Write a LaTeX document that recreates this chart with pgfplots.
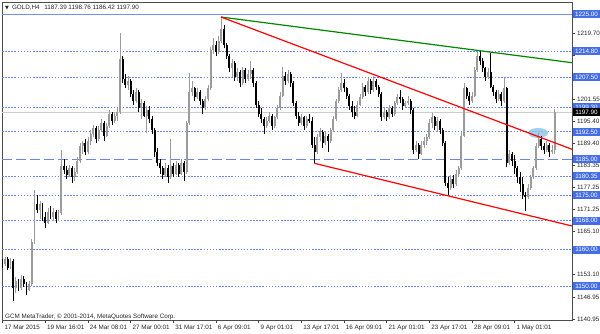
\documentclass[border=0pt]{standalone}
\usepackage{pgfplots}
\pgfplotsset{compat=1.18}
\usepackage{pgfplotstable}
\usepackage{fontspec}
\setmainfont{Liberation Sans}
\newfontfamily\djv{DejaVu Sans}
\definecolor{mtblue}{RGB}{70,110,228}
\definecolor{lvlblue}{RGB}{105,135,232}
\definecolor{topblue}{RGB}{115,145,232}
\definecolor{bullgray}{RGB}{155,155,155}
\definecolor{mtgreen}{RGB}{0,135,0}
\definecolor{bidgray}{RGB}{205,205,205}
\definecolor{skyb}{RGB}{140,195,235}
\newcommand\mtf{\fontsize{6.3bp}{7.5bp}\selectfont}
\tikzset{pbox/.style={anchor=west, fill=mtblue, text=white, font=\mtf, inner sep=0, minimum width=27bp, minimum height=8bp, xshift=0.8bp}}

\pgfplotstableread{
k o h l c
1 1156.0 1158.0 1155.5 1157.5
3 1155.0 1157.8 1154.8 1157.0
5 1149.5 1152.5 1148.0 1151.5
7 1149.5 1153.0 1149.0 1152.0
10 1149.0 1151.5 1148.5 1150.5
11 1150.5 1163.0 1150.0 1162.0
12 1162.0 1176.5 1161.5 1172.5
14 1171.0 1173.5 1168.5 1172.5
17 1167.5 1171.5 1167.0 1170.5
19 1169.0 1171.5 1168.0 1170.5
21 1168.5 1171.0 1168.0 1170.0
22 1170.0 1187.5 1169.5 1183.0
25 1180.5 1183.5 1180.0 1182.5
27 1180.0 1182.5 1179.0 1181.5
28 1181.5 1185.5 1181.0 1184.5
29 1184.5 1189.5 1184.0 1188.5
30 1188.5 1190.0 1186.5 1189.5
32 1187.0 1191.0 1186.5 1190.0
33 1190.0 1193.0 1189.0 1192.0
34 1192.0 1194.5 1191.0 1193.5
36 1190.5 1194.0 1190.0 1193.0
37 1193.0 1196.0 1192.5 1195.0
39 1191.5 1195.0 1191.0 1194.0
40 1194.0 1198.5 1193.5 1197.5
42 1195.5 1198.0 1195.0 1197.0
43 1197.0 1199.0 1195.5 1198.0
44 1198.0 1219.7 1197.5 1212.5
47 1205.5 1208.0 1204.0 1206.5
50 1201.0 1204.5 1200.5 1203.5
52 1199.0 1201.5 1196.0 1200.5
54 1197.0 1199.5 1192.2 1198.5
61 1180.5 1184.0 1180.0 1182.5
63 1180.0 1190.5 1179.5 1183.0
65 1181.0 1184.5 1180.5 1183.5
67 1181.0 1185.0 1180.5 1184.0
69 1181.5 1195.5 1181.0 1195.0
70 1195.0 1208.7 1194.5 1203.5
71 1203.5 1206.5 1202.5 1204.5
73 1202.0 1204.5 1201.5 1203.5
76 1199.0 1202.5 1198.5 1201.5
77 1201.5 1205.5 1201.0 1204.5
78 1204.5 1216.0 1204.0 1215.0
79 1215.0 1218.5 1214.0 1216.5
81 1214.5 1219.0 1214.0 1217.5
82 1217.5 1224.17 1217.0 1221.0
86 1210.0 1212.5 1207.5 1211.5
88 1207.5 1210.0 1206.5 1209.0
90 1206.0 1210.5 1205.5 1209.5
92 1207.0 1209.5 1206.5 1208.5
93 1208.5 1212.0 1207.0 1209.5
99 1194.0 1196.5 1193.5 1195.5
100 1195.5 1198.0 1195.0 1197.0
102 1194.0 1197.0 1193.5 1196.5
103 1196.5 1200.0 1196.0 1199.0
104 1199.0 1203.5 1198.5 1202.5
105 1202.5 1210.4 1202.0 1208.0
107 1206.5 1209.5 1206.0 1208.5
112 1195.0 1197.5 1194.5 1196.5
114 1194.0 1197.0 1193.5 1196.0
118 1187.0 1192.0 1186.5 1191.0
119 1191.0 1193.5 1190.0 1192.5
121 1189.5 1192.5 1189.0 1191.5
123 1190.0 1193.5 1189.5 1193.0
124 1193.0 1197.0 1192.5 1196.0
125 1196.0 1201.5 1195.5 1201.0
126 1201.0 1205.0 1200.5 1204.0
127 1204.0 1208.7 1203.5 1206.0
133 1197.0 1201.0 1196.5 1200.0
134 1200.0 1203.0 1199.5 1202.0
135 1202.0 1206.0 1201.5 1205.0
137 1203.5 1207.5 1203.0 1206.5
139 1204.0 1208.0 1203.5 1206.5
143 1196.5 1199.0 1196.0 1198.0
145 1196.5 1200.0 1196.0 1199.0
147 1197.5 1201.0 1197.0 1200.5
148 1200.5 1203.0 1200.0 1202.0
151 1199.5 1201.0 1199.0 1200.5
152 1200.5 1202.5 1200.0 1201.0
155 1187.5 1190.0 1187.0 1189.0
157 1186.5 1190.0 1186.0 1189.0
158 1189.0 1191.0 1188.0 1190.0
159 1190.0 1192.0 1189.0 1191.0
160 1191.0 1196.0 1190.5 1195.0
161 1195.0 1197.7 1193.5 1196.5
163 1194.0 1196.5 1192.5 1195.5
168 1177.0 1180.5 1176.5 1179.5
170 1178.0 1182.0 1177.5 1181.0
171 1181.0 1183.0 1180.0 1182.5
172 1182.5 1192.5 1182.0 1191.5
173 1191.5 1206.0 1191.0 1204.5
176 1201.0 1203.5 1200.5 1202.5
177 1202.5 1210.5 1202.0 1209.5
178 1209.5 1214.5 1209.0 1213.5
182 1207.5 1210.0 1207.0 1209.0
186 1201.5 1204.0 1201.0 1203.0
188 1201.0 1207.4 1200.5 1204.5
190 1184.0 1187.5 1183.5 1186.5
197 1174.5 1178.0 1174.0 1177.0
198 1177.0 1180.5 1176.5 1180.0
199 1180.0 1183.0 1179.5 1182.5
200 1182.5 1189.5 1182.0 1188.5
201 1188.5 1192.3 1188.0 1190.5
204 1187.5 1190.0 1187.0 1189.0
206 1187.0 1189.0 1186.5 1187.39
207 1187.39 1198.76 1186.42 1197.90
}\bulltab

\pgfplotstableread{
k o h l c
0 1156.5 1157.5 1155.0 1156.0
2 1157.5 1158.0 1154.5 1155.0
4 1157.0 1157.5 1146.0 1149.5
6 1151.5 1152.0 1148.5 1149.5
8 1152.0 1152.8 1149.8 1150.5
9 1150.5 1151.0 1147.5 1149.0
13 1172.5 1175.0 1170.0 1171.0
15 1172.5 1173.0 1168.0 1169.0
16 1169.0 1170.5 1166.0 1167.5
18 1170.5 1172.0 1168.5 1169.0
20 1170.5 1171.0 1167.5 1168.5
23 1183.0 1185.0 1181.0 1182.0
24 1182.0 1183.0 1179.5 1180.5
26 1182.5 1183.0 1178.5 1180.0
31 1189.5 1190.5 1186.0 1187.0
35 1193.5 1194.0 1189.5 1190.5
38 1195.0 1195.5 1190.0 1191.5
41 1197.5 1198.0 1194.5 1195.5
45 1212.5 1213.5 1206.0 1207.0
46 1207.0 1208.5 1204.5 1205.5
48 1206.5 1207.0 1202.0 1203.0
49 1203.0 1204.0 1200.0 1201.0
51 1203.5 1204.0 1198.0 1199.0
53 1200.5 1201.0 1196.5 1197.0
55 1198.5 1199.5 1195.0 1196.0
56 1196.0 1197.0 1192.0 1193.0
57 1193.0 1193.5 1185.5 1187.0
58 1187.0 1188.0 1183.0 1184.0
59 1184.0 1185.0 1181.0 1182.5
60 1182.5 1183.0 1179.5 1180.5
62 1182.5 1183.5 1178.4 1180.0
64 1183.0 1184.0 1180.0 1181.0
66 1183.5 1184.0 1180.0 1181.0
68 1184.0 1184.5 1179.0 1181.5
72 1204.5 1205.0 1201.0 1202.0
74 1203.5 1204.0 1200.0 1201.0
75 1201.0 1201.5 1197.5 1199.0
80 1216.5 1217.5 1213.5 1214.5
83 1221.0 1222.0 1215.5 1216.5
84 1216.5 1217.0 1212.5 1213.5
85 1213.5 1214.0 1209.0 1210.0
87 1211.5 1212.0 1206.5 1207.5
89 1209.0 1209.5 1205.0 1206.0
91 1209.5 1210.0 1206.0 1207.0
94 1209.5 1210.0 1205.0 1206.0
95 1206.0 1206.5 1199.0 1200.0
96 1200.0 1201.0 1196.5 1197.5
97 1197.5 1199.0 1195.0 1196.0
98 1196.0 1196.5 1192.0 1194.0
101 1197.0 1197.5 1193.0 1194.0
106 1208.0 1209.0 1205.5 1206.5
108 1208.5 1209.0 1205.0 1206.0
109 1206.0 1206.5 1199.5 1200.5
110 1200.5 1201.0 1196.0 1197.0
111 1197.0 1198.0 1194.0 1195.0
113 1196.5 1197.0 1193.0 1194.0
115 1196.0 1197.5 1195.0 1195.5
116 1195.5 1196.5 1188.0 1189.0
117 1189.0 1191.0 1183.84 1187.0
120 1192.5 1193.0 1188.0 1189.5
122 1191.5 1192.0 1187.0 1190.0
128 1206.0 1207.0 1203.5 1204.5
129 1204.5 1205.0 1201.5 1202.5
130 1202.5 1203.0 1198.5 1199.5
131 1199.5 1201.0 1196.5 1198.0
132 1198.0 1199.5 1196.0 1197.0
136 1205.0 1205.5 1202.5 1203.5
138 1206.5 1207.0 1203.0 1204.0
140 1206.5 1207.0 1204.0 1205.0
141 1205.0 1205.5 1202.0 1203.0
142 1203.0 1203.5 1195.5 1196.5
144 1198.0 1198.5 1195.5 1196.5
146 1199.0 1199.5 1196.5 1197.5
149 1202.0 1204.0 1200.5 1201.5
150 1201.5 1202.0 1198.5 1199.5
153 1201.0 1201.5 1197.5 1198.5
154 1198.5 1199.0 1186.5 1187.5
156 1189.0 1189.5 1185.0 1186.5
162 1196.5 1197.0 1193.0 1194.0
164 1195.5 1196.0 1192.0 1193.0
165 1193.0 1193.5 1188.5 1189.5
166 1189.5 1190.0 1177.5 1178.5
167 1178.5 1180.0 1175.1 1177.0
169 1179.5 1180.5 1177.0 1178.0
174 1204.5 1205.0 1201.5 1202.5
175 1202.5 1203.5 1200.0 1201.0
179 1213.5 1215.0 1211.0 1212.0
180 1212.0 1213.0 1209.0 1210.0
181 1210.0 1210.5 1206.5 1207.5
183 1209.0 1214.2 1204.5 1205.0
184 1205.0 1205.5 1202.5 1203.5
185 1203.5 1204.0 1200.5 1201.5
187 1203.0 1203.5 1199.5 1201.0
189 1204.5 1205.0 1182.8 1184.0
191 1186.5 1187.0 1183.0 1184.5
192 1184.5 1186.0 1181.0 1182.5
193 1182.5 1183.0 1178.5 1180.0
194 1180.0 1181.5 1176.0 1178.0
195 1178.0 1180.0 1174.0 1175.0
196 1175.0 1176.0 1170.7 1174.5
202 1190.5 1191.5 1187.5 1188.5
203 1188.5 1189.5 1186.5 1187.5
205 1189.0 1189.5 1185.5 1187.0
}\beartab

\begin{document}
\begin{tikzpicture}[x=1bp,y=1bp]
\useasboundingbox (0,0) rectangle (600,333);
\begin{axis}[
  at={(2bp,13bp)}, anchor=south west,
  scale only axis, width=570bp, height=318bp,
  xmin=-0.2, xmax=213.5, ymin=1140.63, ymax=1228.31,
  clip=false,
  axis line style={draw=black!70, line width=0.8bp},
  xtick={0,16,...,192},
  xticklabels={17 Mar 2015,19 Mar 16:01,24 Mar 08:01,27 Mar 00:01,31 Mar 17:01,6 Apr 09:01,9 Apr 01:01,13 Apr 17:01,16 Apr 09:01,21 Apr 01:01,23 Apr 17:01,28 Apr 09:01,1 May 01:01},
  xtick pos=bottom, ytick pos=right,
  xticklabel style={anchor=north west, font=\mtf, text=black!85, xshift=-1.5bp, yshift=1bp},
  ytick={1140.95,1146.95,1153.10,1159.10,1165.10,1171.25,1177.25,1183.35,1189.40,1195.40,1201.55,1207.60,1213.65,1219.70,1225.75},
  yticklabels={1140.95,1146.95,1153.10,,1165.10,1171.25,1177.25,1183.35,1189.40,1195.40,1201.55,,,1219.70,},
  yticklabel pos=right,
  yticklabel style={anchor=west, font=\mtf, text=black!85, xshift=-1bp},
  tick align=outside, major tick length=2.5bp,
  tick style={black!75, line width=0.6bp},
]
% level lines
\addplot[topblue, line width=0.9bp, forget plot] coordinates {(-0.2,1225) (213.5,1225)};
\addplot[lvlblue, line width=0.8bp, dash pattern=on 1.5bp off 1.6bp, forget plot] coordinates {(-0.2,1214.8) (213.5,1214.8)};
\addplot[lvlblue, line width=0.8bp, dash pattern=on 1.5bp off 1.6bp, forget plot] coordinates {(-0.2,1207.5) (213.5,1207.5)};
\addplot[lvlblue, line width=0.8bp, dash pattern=on 1.5bp off 1.6bp, forget plot] coordinates {(-0.2,1199.3) (213.5,1199.3)};
\addplot[lvlblue, line width=0.8bp, dash pattern=on 1.5bp off 1.6bp, forget plot] coordinates {(-0.2,1192.5) (213.5,1192.5)};
\addplot[lvlblue, line width=0.8bp, dash pattern=on 10bp off 4bp, forget plot] coordinates {(-0.2,1185) (213.5,1185)};
\addplot[lvlblue, line width=0.8bp, dash pattern=on 1.5bp off 1.6bp, forget plot] coordinates {(-0.2,1180.35) (213.5,1180.35)};
\addplot[lvlblue, line width=0.8bp, dash pattern=on 1.5bp off 1.6bp, forget plot] coordinates {(-0.2,1175) (213.5,1175)};
\addplot[lvlblue, line width=0.8bp, dash pattern=on 1.5bp off 1.6bp, forget plot] coordinates {(-0.2,1168) (213.5,1168)};
\addplot[lvlblue, line width=0.8bp, dash pattern=on 1.5bp off 1.6bp, forget plot] coordinates {(-0.2,1160) (213.5,1160)};
\addplot[lvlblue, line width=0.8bp, dash pattern=on 1.5bp off 1.6bp, forget plot] coordinates {(-0.2,1150) (213.5,1150)};
% bid line
\addplot[bidgray, line width=1bp, forget plot] coordinates {(-0.2,1197.9) (213.5,1197.9)};
% highlight ellipse
\fill[skyb, opacity=0.8] (axis cs:200.8,1192.2) ellipse [x radius=10bp, y radius=5bp];
% wicks
\addplot[draw=none, forget plot, error bars/.cd, y dir=plus, y explicit, error mark=none,
  error bar style={draw=bullgray, line width=0.75bp}]
  table[x=k, y=l, y error expr=\thisrow{h}-\thisrow{l}] {\bulltab};
\addplot[draw=none, forget plot, error bars/.cd, y dir=plus, y explicit, error mark=none,
  error bar style={draw=black, line width=0.75bp}]
  table[x=k, y=l, y error expr=\thisrow{h}-\thisrow{l}] {\beartab};
% bodies
\addplot[draw=none, forget plot, error bars/.cd, y dir=plus, y explicit, error mark=none,
  error bar style={draw=bullgray, line width=1.9bp}]
  table[x=k, y=o, y error expr=\thisrow{c}-\thisrow{o}] {\bulltab};
\addplot[draw=none, forget plot, error bars/.cd, y dir=plus, y explicit, error mark=none,
  error bar style={draw=black, line width=1.9bp}]
  table[x=k, y=c, y error expr=\thisrow{o}-\thisrow{c}] {\beartab};
% trend lines
\addplot[mtgreen, line width=1.2bp, forget plot] coordinates {(81.9,1224.17) (213.5,1211.57)};
\addplot[red, line width=1.2bp, forget plot] coordinates {(81.9,1224.17) (213.5,1187.7)};
\addplot[red, line width=1.2bp, forget plot] coordinates {(116.9,1183.84) (213.5,1166.55)};
% header and copyright
\node[anchor=west, inner sep=0, font=\mtf, text=black!85] at ([xshift=3bp,yshift=-5.5bp]rel axis cs:0,1)
  {{\djv\fontsize{5bp}{6bp}\selectfont ▼}\hspace{3bp}GOLD,H4\hspace{3bp} 1187.39 1198.76 1186.42 1197.90};
\node[anchor=west, inner sep=0, font=\mtf, text=black!85] at ([xshift=3bp,yshift=3.5bp]rel axis cs:0,0)
  {GCM MetaTrader, © 2001-2014, MetaQuotes Software Corp.};
% price boxes
\node[pbox] at (axis cs:213.5,1225) {1225.00};
\node[pbox] at (axis cs:213.5,1214.8) {1214.80};
\node[pbox] at (axis cs:213.5,1207.5) {1207.50};
\node[pbox] at (axis cs:213.5,1199.3) {1199.30};
\node[pbox] at (axis cs:213.5,1192.5) {1192.50};
\node[pbox] at (axis cs:213.5,1185) {1185.00};
\node[pbox] at (axis cs:213.5,1180.35) {1180.35};
\node[pbox] at (axis cs:213.5,1175) {1175.00};
\node[pbox] at (axis cs:213.5,1168) {1168.00};
\node[pbox] at (axis cs:213.5,1160) {1160.00};
\node[pbox] at (axis cs:213.5,1150) {1150.00};
\node[pbox, fill=black] at (axis cs:213.5,1197.9) {1197.90};
\end{axis}
\end{tikzpicture}
\end{document}
